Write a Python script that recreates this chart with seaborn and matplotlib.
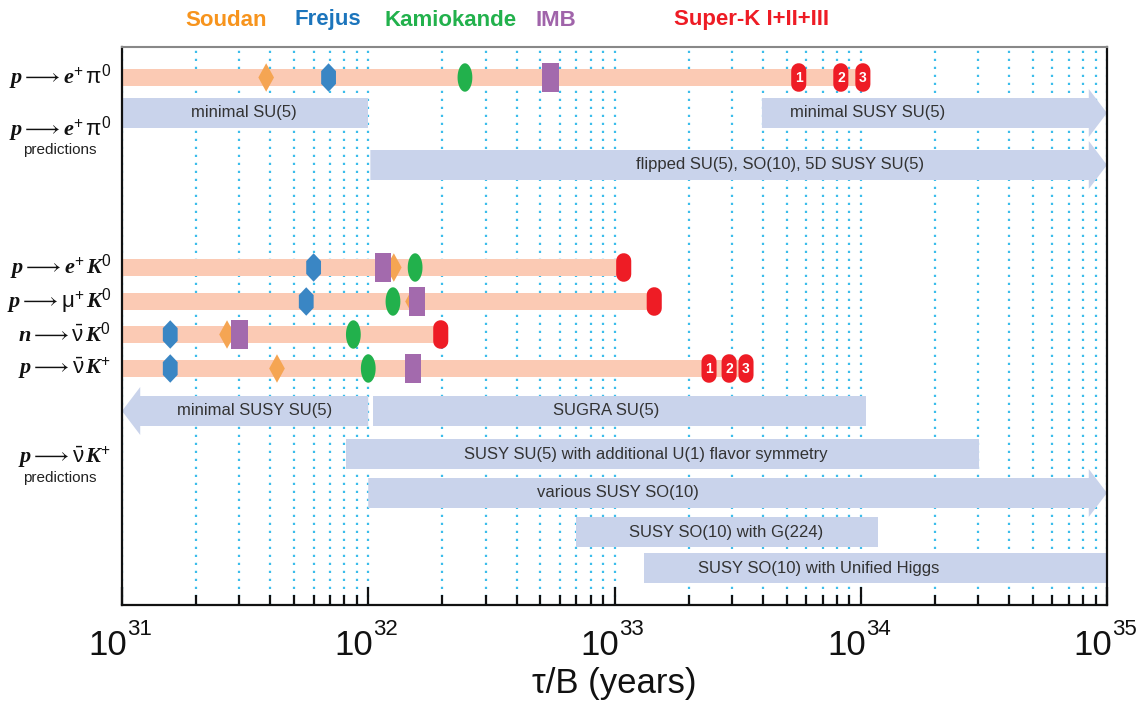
import numpy as np
import pandas as pd
import matplotlib
matplotlib.use("Agg")
import matplotlib.pyplot as plt
from matplotlib.path import Path
from matplotlib.transforms import offset_copy
import seaborn as sns

# ---- data (lifetime / branching ratio limits, years) ----
channels = ["p_epi0", "p_eK0", "p_muK0", "n_nuK0", "p_nuK+"]
soudan = [3.85e31, 1.27e32, 1.52e32, 2.67e31, 4.26e31]
frejus = [6.9e31, 6.0e31, 5.6e31, 1.57e31, 1.57e31]
kamiokande = [2.47e32, 1.55e32, 1.26e32, 8.7e31, 1.0e32]
imb = [5.5e32, 1.15e32, 1.58e32, 3.0e31, 1.52e32]
superk = [[5.6e33, 8.3e33, 1.02e34], [1.09e33], [1.45e33], [1.97e32], [2.42e33, 2.92e33, 3.42e33]]

channel_labels = [
    r"$\mathbf{p}\longrightarrow\mathbf{e}^{+}\,\mathrm{\pi}^{0}$",
    r"$\mathbf{p}\longrightarrow\mathbf{e}^{+}\,\mathbf{K}^{0}$",
    r"$\mathbf{p}\longrightarrow\mathrm{\mu}^{+}\,\mathbf{K}^{0}$",
    r"$\mathbf{n}\longrightarrow\bar{\mathrm{\nu}}\,\mathbf{K}^{0}$",
    r"$\mathbf{p}\longrightarrow\bar{\mathrm{\nu}}\,\mathbf{K}^{+}$",
]

# model predictions, p -> e+ pi0
epi_models = ["minimal SU(5)", "minimal SUSY SU(5)", "flipped SU(5), SO(10), 5D SUSY SU(5)"]
epi_low = [1e31, 3.97e33, 1.02e32]
epi_high = [1e32, 1e35, 1e35]
epi_arrow = [None, "right", "right"]

# model predictions, p -> nubar K+
nuk_models = ["minimal SUSY SU(5)", "SUGRA SU(5)",
              "SUSY SU(5) with additional U(1) flavor symmetry",
              "various SUSY SO(10)", "SUSY SO(10) with G(224)",
              "SUSY SO(10) with Unified Higgs"]
nuk_low = [1e31, 1.045e32, 8.1e31, 1e32, 7.0e32, 1.32e33]
nuk_high = [1e32, 1.05e34, 3.02e34, 1e35, 1.17e34, 1e35]
nuk_arrow = ["left", None, None, "right", None, None]

experiments = ["Soudan", "Frejus", "Kamiokande", "IMB", "Super-K I+II+III"]
decades = [31, 32, 33, 34, 35]

# ---- layout / style ----
row_y = [77.5, 267.5, 301.5, 334.5, 368.5]
epi_y = [113, 113, 165]
epi_text_x = [10**31.495, 10**34.026, 10**33.672]
nuk_y = [411, 411, 454, 493, 532, 568]
nuk_text_x = [10**31.54, 10**32.965, 10**33.128, 10**33.014, 10**33.453, 10**33.83]

colors = {"Soudan": "#F5A553", "Frejus": "#3A86C4", "Kamiokande": "#22B14C",
          "IMB": "#A36AAD", "Super-K I+II+III": "#EE1C25"}
title_colors = {"Soudan": "#F7941D", "Frejus": "#1C75BC", "Kamiokande": "#22B14C",
                "IMB": "#A064AA", "Super-K I+II+III": "#EE1C25"}
title_x = [226, 328, 451, 556, 752]
exp_bar_color = "#FBCAB4"
pred_color = "#C9D3EB"
grid_color = "#3CBDEB"

sns.set_theme(style="white")
plt.rcParams["font.family"] = ["Liberation Sans", "DejaVu Sans"]
plt.rcParams["mathtext.fontset"] = "custom"
plt.rcParams["mathtext.rm"] = "Liberation Sans"
plt.rcParams["mathtext.it"] = "Liberation Serif:italic"
plt.rcParams["mathtext.bf"] = "Liberation Serif:italic:bold"

# marker shapes
def poly(pts):
    pts = list(pts) + [pts[0]]
    codes = [Path.MOVETO] + [Path.LINETO] * (len(pts) - 2) + [Path.CLOSEPOLY]
    return Path(pts, codes)

t = np.linspace(0, 2 * np.pi, 40, endpoint=False)
ellipse = poly([(0.52 * np.cos(a), np.sin(a)) for a in t])
diamond = poly([(0, 1), (0.55, 0), (0, -1), (-0.55, 0)])
hexagon = poly([(0, 1), (0.52, 0.45), (0.52, -0.45), (0, -1), (-0.52, -0.45), (-0.52, 0.45)])
rect = poly([(-0.54, -0.93), (0.54, -0.93), (0.54, 0.93), (-0.54, 0.93)])
th = np.linspace(0, np.pi, 12)
stadium = poly([(0.5 * np.cos(a), 0.45 + 0.5 * np.sin(a)) for a in th] +
               [(-0.5 * np.cos(a), -0.45 - 0.5 * np.sin(a)) for a in th])
markers = {"Soudan": diamond, "Frejus": hexagon, "Kamiokande": ellipse,
           "IMB": rect, "Super-K I+II+III": stadium}

rows = []
for name, vals in zip(experiments[:4], [soudan, frejus, kamiokande, imb]):
    for y, v in zip(row_y, vals):
        rows.append({"experiment": name, "lifetime": v, "y": y})
for y, vals in zip(row_y, superk):
    for v in vals:
        rows.append({"experiment": "Super-K I+II+III", "lifetime": v, "y": y})
df = pd.DataFrame(rows)

fig = plt.figure(figsize=(11.37, 7.03), dpi=100)
ax = fig.add_axes([122 / 1137, 1 - 605 / 703, 985 / 1137, 558 / 703])
ax.set_xscale("log")
ax.set_xlim(1e31, 1e35)
ax.set_ylim(605, 47)

# experimental limit bars
for y, sk in zip(row_y, superk):
    ax.fill([1e31, max(sk), max(sk), 1e31], [y - 8.5, y - 8.5, y + 8.5, y + 8.5],
            color=exp_bar_color, lw=0, zorder=1)

head = 10 ** 0.074

def band(lo, hi, yc, arrow, half=15, hh=24):
    if arrow == "right":
        b = hi / head
        xs = [lo, b, b, hi, b, b, lo]
        ys = [yc - half, yc - half, yc - hh, yc, yc + hh, yc + half, yc + half]
    elif arrow == "left":
        b = lo * head
        xs = [hi, b, b, lo, b, b, hi]
        ys = [yc - half, yc - half, yc - hh, yc, yc + hh, yc + half, yc + half]
    else:
        xs = [lo, hi, hi, lo]
        ys = [yc - half, yc - half, yc + half, yc + half]
    ax.fill(xs, ys, color=pred_color, lw=0, zorder=1, clip_on=False)

for name, lo, hi, a, y, tx in zip(epi_models, epi_low, epi_high, epi_arrow, epi_y, epi_text_x):
    band(lo, hi, y, a)
    ax.text(tx, y, name, ha="center", va="center", fontsize=12, color="#333333", zorder=4)
for name, lo, hi, a, y, tx in zip(nuk_models, nuk_low, nuk_high, nuk_arrow, nuk_y, nuk_text_x):
    band(lo, hi, y, a)
    ax.text(tx, y, name, ha="center", va="center", fontsize=12, color="#333333", zorder=4)

sns.scatterplot(data=df, x="lifetime", y="y", hue="experiment", style="experiment",
                palette=colors, markers=markers, s=420, linewidth=0, legend=False,
                ax=ax, zorder=3)

for y, vals in zip(row_y, superk):
    if len(vals) > 1:
        for i, v in enumerate(vals):
            ax.text(v, y + 0.5, str(i + 1), color="white", fontsize=10, fontweight="bold",
                    ha="center", va="center", zorder=5)

# channel labels on the left
ytr = ax.get_yaxis_transform()
for lab, y in zip(channel_labels, row_y):
    ax.text(-0.011, y, lab, transform=ytr, ha="right", va="center", fontsize=16, color="#111111")
ax.text(-0.011, 129, channel_labels[0], transform=ytr, ha="right", va="center", fontsize=16, color="#111111")
ax.text(-0.063, 150, "predictions", transform=ytr, ha="center", va="center", fontsize=11, color="#222222")
ax.text(-0.011, 457, channel_labels[4], transform=ytr, ha="right", va="center", fontsize=16, color="#111111")
ax.text(-0.063, 478, "predictions", transform=ytr, ha="center", va="center", fontsize=11, color="#222222")

# experiment names on top
for name, x in zip(experiments, title_x):
    fig.text(x / 1137, 1 - 20 / 703, name, color=title_colors[name], fontsize=16,
             fontweight="bold", ha="center", va="center")

# axes styling
ax.grid(True, which="both", axis="x", color=grid_color, linestyle=(0, (1, 2.6)), linewidth=1.6)
ax.grid(False, axis="y")
ax.set_axisbelow(True)
ax.set_yticks([])
ax.tick_params(axis="x", which="major", direction="in", length=13, width=1.6,
               labelbottom=False, bottom=True, top=False, colors="#111111")
ax.tick_params(axis="x", which="minor", direction="in", length=7, width=1.6,
               labelbottom=False, bottom=True, top=False, colors="#111111")
for side in ["left", "bottom", "right"]:
    ax.spines[side].set_color("#111111")
    ax.spines[side].set_linewidth(1.6)
ax.spines["top"].set_color("#888888")
ax.spines["top"].set_linewidth(1.5)
ax.set_xlabel("")
ax.set_ylabel("")

# decade labels: "10" with raised exponent
xtr = ax.get_xaxis_transform()
base_tr = offset_copy(xtr, fig=fig, x=5, y=0, units="dots")
for k in decades:
    ax.text(10.0 ** k, (605 - 655) / 558, "10", transform=base_tr, ha="right", va="baseline",
            fontsize=25, color="#111111", clip_on=False)
    ax.text(10.0 ** k, (605 - 635) / 558, str(k), transform=base_tr, ha="left", va="baseline",
            fontsize=16, color="#111111", clip_on=False)

fig.text(614 / 1137, 1 - 683 / 703, "τ/B (years)", fontsize=25, color="#111111",
         ha="center", va="center")

fig.savefig("out.png", dpi=100)
